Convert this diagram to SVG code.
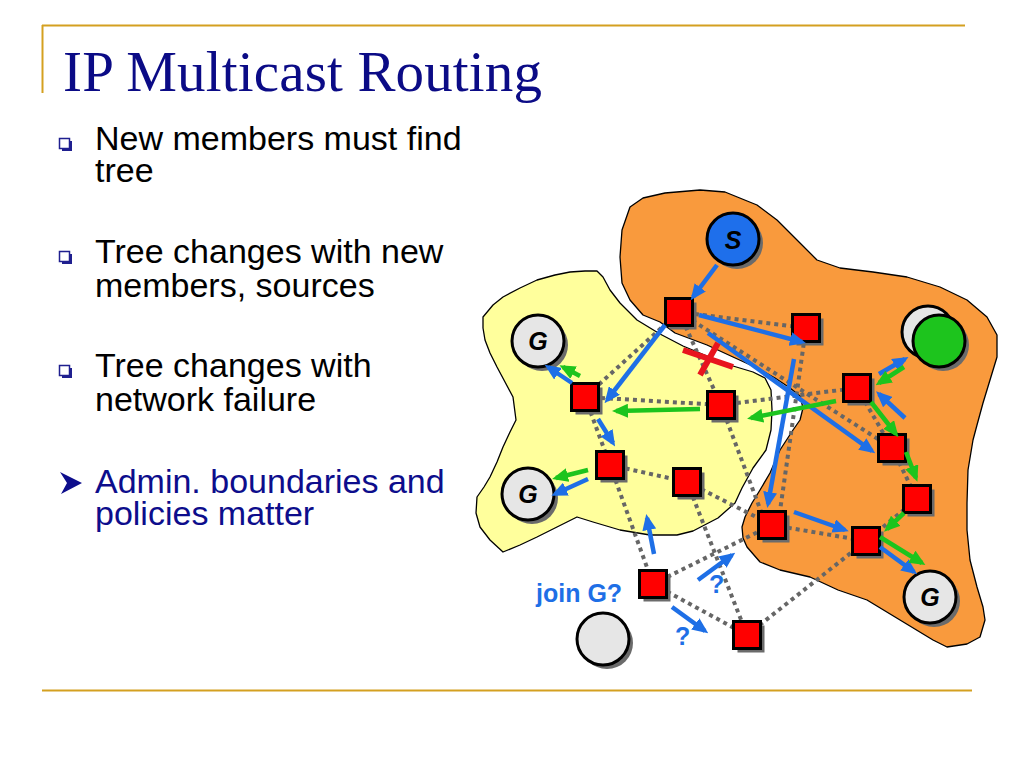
<svg xmlns="http://www.w3.org/2000/svg" width="1024" height="768" viewBox="0 0 1024 768">
<defs>
<style>
.gold{stroke:#D4A020;stroke-width:2;fill:none}
.title{font-family:"Liberation Serif","Times New Roman",serif;font-size:57px;fill:#0B0B86}
.bt{font-family:"Liberation Sans",Arial,sans-serif;font-size:34px;fill:#000}
.bn{font-family:"Liberation Sans",Arial,sans-serif;font-size:34px;fill:#0D0D8C}
.blob{stroke:#000;stroke-width:1.3;stroke-linejoin:round}
.link{stroke:#666;stroke-width:4;stroke-dasharray:4 4;fill:none}
.ba{stroke:#1E6FE6;stroke-width:4.5;fill:none;marker-end:url(#ab)}
.ga{stroke:#1DC41D;stroke-width:4.5;fill:none;marker-end:url(#ag)}
.sh{fill:#6B6B6B}
.rt{fill:#FF0000;stroke:#000;stroke-width:3}
.hc{fill:#E6E6E6;stroke:#000;stroke-width:3}
.lbl{font-family:"Liberation Sans",Arial,sans-serif;font-weight:bold;font-style:italic;font-size:25px;fill:#000;text-anchor:middle}
.bl{font-family:"Liberation Sans",Arial,sans-serif;font-weight:bold;font-size:25px;fill:#1E6FE6}
.box{fill:#fff;stroke:#1F1F8F;stroke-width:1.5}
.boxs{stroke:#1F1F8F;stroke-width:2;fill:none}
</style>
<marker id="ab" markerUnits="userSpaceOnUse" markerWidth="16" markerHeight="14" viewBox="0 0 16 14" refX="12" refY="7" orient="auto"><path d="M0,0 L16,7 L0,14 z" fill="#1E6FE6"/></marker>
<marker id="ag" markerUnits="userSpaceOnUse" markerWidth="16" markerHeight="14" viewBox="0 0 16 14" refX="12" refY="7" orient="auto"><path d="M0,0 L16,7 L0,14 z" fill="#1DC41D"/></marker>
</defs>
<rect width="1024" height="768" fill="#fff"/>

<g id="frame">
<line class="gold" x1="42" y1="25.5" x2="965" y2="25.5"/>
<line class="gold" x1="42.5" y1="25" x2="42.5" y2="93"/>
<line class="gold" x1="42" y1="690.5" x2="972" y2="690.5"/>
</g>

<text class="title" x="63" y="91" textLength="479">IP Multicast Routing</text>

<g id="bullets">
<rect class="box" x="59.5" y="138.5" width="10" height="10"/><polyline class="boxs" points="71,141 71,150 62,150"/>
<text class="bt" x="95" y="150">New members must find<tspan x="95" dy="32">tree</tspan></text>
<rect class="box" x="59.5" y="251.5" width="10" height="10"/><polyline class="boxs" points="71,254 71,263 62,263"/>
<text class="bt" x="95" y="263">Tree changes with new<tspan x="95" dy="34">members, sources</tspan></text>
<rect class="box" x="59.5" y="365.5" width="10" height="10"/><polyline class="boxs" points="71,368 71,377 62,377"/>
<text class="bt" x="95" y="377">Tree changes with<tspan x="95" dy="34">network failure</tspan></text>
<polygon points="60,472 82,483 61,494 67,483" fill="#0D0D8C"/>
<text class="bn" x="95" y="493">Admin. boundaries and<tspan x="95" dy="32">policies matter</tspan></text>
</g>

<g id="domains">
<path id="orange-domain" class="blob" fill="#F99A3D" d="M630,207 L643,198 L665,193 L700,190 L725,192 L757,205 L777,220 L800,243 L817,260 L840,268 L873,272 L907,277 L940,287 L967,300 L987,317 L997,335 L997,357 L990,380 L983,403 L977,425 L973,440 L968,470 L967,503 L967,530 L970,560 L977,587 L983,607 L985,620 L980,637 L967,644 L947,647 L933,640 L900,620 L867,600 L838,590 L810,577 L780,570 L760,562 L747,547 L743,538 L742,527 L745,517 L752,503 L760,490 L770,473 L780,450 L793,430 L800,420 L803,408 L800,396 L790,388 L775,378 L757,368 L733,357 L707,345 L675,333 L660,322 L643,315 L630,300 L622,283 L620,257 L622,230 Z"/>
<path id="yellow-domain" class="blob" fill="#FFFF9C" d="M483,317 L493,305 L503,297 L520,288 L537,280 L555,275 L570,272 L585,271 L597,271 L603,277 L610,290 L620,303 L637,320 L660,334 L683,346 L707,356 L733,366 L753,372 L765,378 L771,390 L772,410 L771,430 L766,450 L753,468 L742,488 L735,503 L718,518 L693,531 L677,535 L650,535 L620,530 L593,522 L577,517 L557,527 L537,537 L520,545 L503,552 L490,540 L480,527 L476,513 L477,497 L484,487 L490,477 L497,462 L503,447 L510,432 L516,420 L513,397 L505,382 L497,367 L490,353 L485,340 L483,328 Z"/>
</g>

<g id="links">
<line class="link" x1="679" y1="312" x2="806" y2="328"/>
<line class="link" x1="679" y1="312" x2="585" y2="397"/>
<line class="link" x1="679" y1="312" x2="721" y2="405"/>
<line class="link" x1="679" y1="312" x2="892" y2="448"/>
<line class="link" x1="806" y1="328" x2="778" y2="525"/>
<line class="link" x1="585" y1="397" x2="721" y2="405"/>
<line class="link" x1="585" y1="397" x2="610" y2="465"/>
<line class="link" x1="721" y1="405" x2="857" y2="388"/>
<line class="link" x1="721" y1="405" x2="765" y2="522"/>
<line class="link" x1="857" y1="388" x2="892" y2="448"/>
<line class="link" x1="892" y1="448" x2="917" y2="499"/>
<line class="link" x1="917" y1="499" x2="866" y2="541"/>
<line class="link" x1="772" y1="525" x2="866" y2="541"/>
<line class="link" x1="610" y1="465" x2="687" y2="482"/>
<line class="link" x1="610" y1="465" x2="653" y2="584"/>
<line class="link" x1="687" y1="482" x2="772" y2="525"/>
<line class="link" x1="687" y1="482" x2="747" y2="635"/>
<line class="link" x1="653" y1="584" x2="772" y2="525"/>
<line class="link" x1="653" y1="584" x2="747" y2="635"/>
<line class="link" x1="747" y1="635" x2="866" y2="541"/>
</g>

<g id="hosts">
<g id="S"><circle class="sh" cx="737" cy="243" r="26"/><circle cx="733" cy="239" r="26" fill="#1E6FEB" stroke="#000" stroke-width="3"/><text class="lbl" x="733" y="249" font-size="28">S</text></g>
<g id="G1"><circle class="sh" cx="542" cy="345" r="26"/><circle class="hc" cx="538" cy="341" r="26"/><text class="lbl" x="538" y="350">G</text></g>
<g id="G2"><circle class="sh" cx="532" cy="498" r="26"/><circle class="hc" cx="528" cy="494" r="26"/><text class="lbl" x="528" y="503">G</text></g>
<g id="G3"><circle class="sh" cx="934" cy="601" r="26"/><circle class="hc" cx="930" cy="597" r="26"/><text class="lbl" x="930" y="606">G</text></g>
<g id="newhost"><circle class="sh" cx="607" cy="643" r="26"/><circle class="hc" cx="603" cy="639" r="26"/></g>
<g id="greenhost"><circle class="sh" cx="932" cy="336" r="26"/><circle class="hc" cx="928" cy="332" r="26"/><circle class="sh" cx="943" cy="345" r="26"/><circle cx="939" cy="341" r="26" fill="#1DC41D" stroke="#000" stroke-width="3"/></g>
</g>

<g id="routers">
<g id="R1"><rect class="sh" x="669.5" y="302.5" width="27" height="27"/><rect class="rt" x="665.5" y="298.5" width="27" height="27"/></g>
<g id="R2"><rect class="sh" x="796.5" y="318.5" width="27" height="27"/><rect class="rt" x="792.5" y="314.5" width="27" height="27"/></g>
<g id="R3"><rect class="sh" x="575.5" y="387.5" width="27" height="27"/><rect class="rt" x="571.5" y="383.5" width="27" height="27"/></g>
<g id="R4"><rect class="sh" x="711.5" y="395.5" width="27" height="27"/><rect class="rt" x="707.5" y="391.5" width="27" height="27"/></g>
<g id="R5"><rect class="sh" x="847.5" y="378.5" width="27" height="27"/><rect class="rt" x="843.5" y="374.5" width="27" height="27"/></g>
<g id="R6"><rect class="sh" x="882.5" y="438.5" width="27" height="27"/><rect class="rt" x="878.5" y="434.5" width="27" height="27"/></g>
<g id="R7"><rect class="sh" x="600.5" y="455.5" width="27" height="27"/><rect class="rt" x="596.5" y="451.5" width="27" height="27"/></g>
<g id="R8"><rect class="sh" x="677.5" y="472.5" width="27" height="27"/><rect class="rt" x="673.5" y="468.5" width="27" height="27"/></g>
<g id="R9"><rect class="sh" x="907.5" y="489.5" width="27" height="27"/><rect class="rt" x="903.5" y="485.5" width="27" height="27"/></g>
<g id="R10"><rect class="sh" x="762.5" y="515.5" width="27" height="27"/><rect class="rt" x="758.5" y="511.5" width="27" height="27"/></g>
<g id="R11"><rect class="sh" x="856.5" y="531.5" width="27" height="27"/><rect class="rt" x="852.5" y="527.5" width="27" height="27"/></g>
<g id="R12"><rect class="sh" x="643.5" y="574.5" width="27" height="27"/><rect class="rt" x="639.5" y="570.5" width="27" height="27"/></g>
<g id="R13"><rect class="sh" x="737.5" y="625.5" width="27" height="27"/><rect class="rt" x="733.5" y="621.5" width="27" height="27"/></g>
</g>

<g id="arrows">
<line class="ba" x1="717" y1="265" x2="693" y2="297"/>
<line class="ba" x1="665" y1="325" x2="607" y2="400"/>
<line class="ba" x1="699" y1="315" x2="802" y2="342"/>
<line class="ba" x1="708" y1="333" x2="872" y2="451"/>
<line class="ba" x1="794" y1="359" x2="768" y2="504"/>
<line class="ba" x1="572" y1="383" x2="548" y2="367"/>
<line class="ba" x1="598" y1="419" x2="613" y2="443"/>
<line class="ba" x1="588" y1="479" x2="555" y2="494"/>
<line class="ba" x1="654" y1="554" x2="647" y2="518"/>
<line class="ba" x1="698" y1="580" x2="732" y2="555"/>
<line class="ba" x1="672" y1="607" x2="705" y2="631"/>
<line class="ba" x1="794" y1="512" x2="845" y2="530"/>
<line class="ba" x1="880" y1="547" x2="914" y2="572"/>
<line class="ba" x1="879" y1="374" x2="905" y2="359"/>
<line class="ba" x1="905" y1="418" x2="879" y2="394"/>
<line class="ga" x1="580" y1="376" x2="563" y2="367"/>
<line class="ga" x1="700" y1="409" x2="616" y2="411"/>
<line class="ga" x1="836" y1="401" x2="751" y2="418"/>
<line class="ga" x1="904" y1="367" x2="879" y2="383"/>
<line class="ga" x1="871" y1="402" x2="896" y2="434"/>
<line class="ga" x1="906" y1="452" x2="916" y2="478"/>
<line class="ga" x1="904" y1="513" x2="887" y2="529"/>
<line class="ga" x1="880" y1="537" x2="922" y2="563"/>
<line class="ga" x1="588" y1="470" x2="556" y2="478"/>
</g>

<g id="failure">
<line x1="683" y1="350" x2="733" y2="367" stroke="#E8141E" stroke-width="6"/>
<line x1="718" y1="343" x2="700" y2="375" stroke="#E8141E" stroke-width="6"/>
</g>

<g id="labels">
<text class="bl" x="536" y="602">join G?</text>
<text class="bl" x="709" y="593">?</text>
<text class="bl" x="675" y="645">?</text>
</g>
</svg>
